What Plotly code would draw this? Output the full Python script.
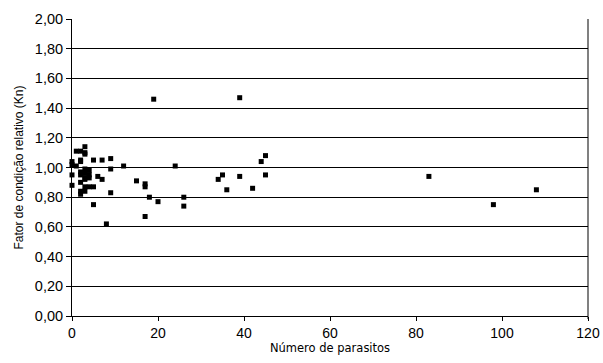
import plotly.graph_objects as go

# Número de parasitos (x) e fator de condição relativo Kn (y)
parasitos = [0, 0, 0, 0, 1, 1, 2, 2, 2, 2, 2, 2, 2, 2,
             3, 3, 3, 3, 3, 3, 3, 3, 3, 4, 4, 4, 4, 5, 5, 5,
             6, 7, 7, 8, 9, 9, 9, 12, 15, 17, 17, 17, 18, 19, 20,
             24, 26, 26, 34, 35, 36, 39, 39, 42, 44, 45, 45, 83, 98, 108]
kn = [1.04, 1.02, 0.95, 0.88, 1.11, 1.01, 1.11, 1.05, 1.04, 0.97, 0.95, 0.90, 0.84, 0.82,
      1.14, 1.10, 1.09, 0.99, 0.96, 0.93, 0.92, 0.87, 0.84, 0.98, 0.95, 0.93, 0.87, 1.05, 0.87, 0.75,
      0.94, 1.05, 0.92, 0.62, 1.06, 0.99, 0.83, 1.01, 0.91, 0.89, 0.87, 0.67, 0.80, 1.46, 0.77,
      1.01, 0.80, 0.74, 0.92, 0.95, 0.85, 1.47, 0.94, 0.86, 1.04, 1.08, 0.95, 0.94, 0.75, 0.85]

x_ticks = [0, 20, 40, 60, 80, 100, 120]

fig = go.Figure()
fig.add_trace(go.Scatter(
    x=parasitos, y=kn, mode="markers",
    marker=dict(symbol="square", size=5, color="black", line=dict(width=0)),
    showlegend=False, cliponaxis=False,
))

fig.update_layout(
    width=603, height=363,
    margin=dict(l=72, r=15, t=19, b=47),
    paper_bgcolor="white", plot_bgcolor="white",
    separators=",.",
    font=dict(family="Liberation Sans, Arial, sans-serif", color="black", size=13),
    xaxis=dict(
        range=[0, 120], tickvals=x_ticks, ticks="outside", ticklen=4, tickcolor="black",
        showgrid=False, zeroline=False, showline=True, linecolor="black", linewidth=1,
        tickfont=dict(size=14, family="Liberation Sans, Arial, sans-serif"),
        ticklabeloverflow="allow",
        title=dict(text="Número de parasitos", standoff=2,
                   font=dict(size=11.5, family="DejaVu Sans, Verdana, sans-serif")),
        automargin=False,
    ),
    yaxis=dict(
        range=[0, 2], dtick=0.2, tickformat=".2f", ticks="outside", ticklen=5, tickcolor="black",
        showgrid=True, gridcolor="black", gridwidth=1, zeroline=False,
        showline=True, linecolor="black", linewidth=1,
        tickfont=dict(size=14.5, family="Liberation Sans, Arial, sans-serif"),
        title=dict(text="Fator de condição relativo (Kn)", standoff=8,
                   font=dict(size=12, family="Liberation Sans, Arial, sans-serif")),
        automargin=False,
    ),
    shapes=[dict(type="line", xref="paper", yref="paper", x0=1, x1=1, y0=-0.01, y1=1,
                 line=dict(color="#808080", width=2), layer="below")],
)

fig.write_html(
    "out.html",
    config={"displayModeBar": False},
    post_script="document.body.style.margin='0';document.body.style.overflow='hidden';",
)
